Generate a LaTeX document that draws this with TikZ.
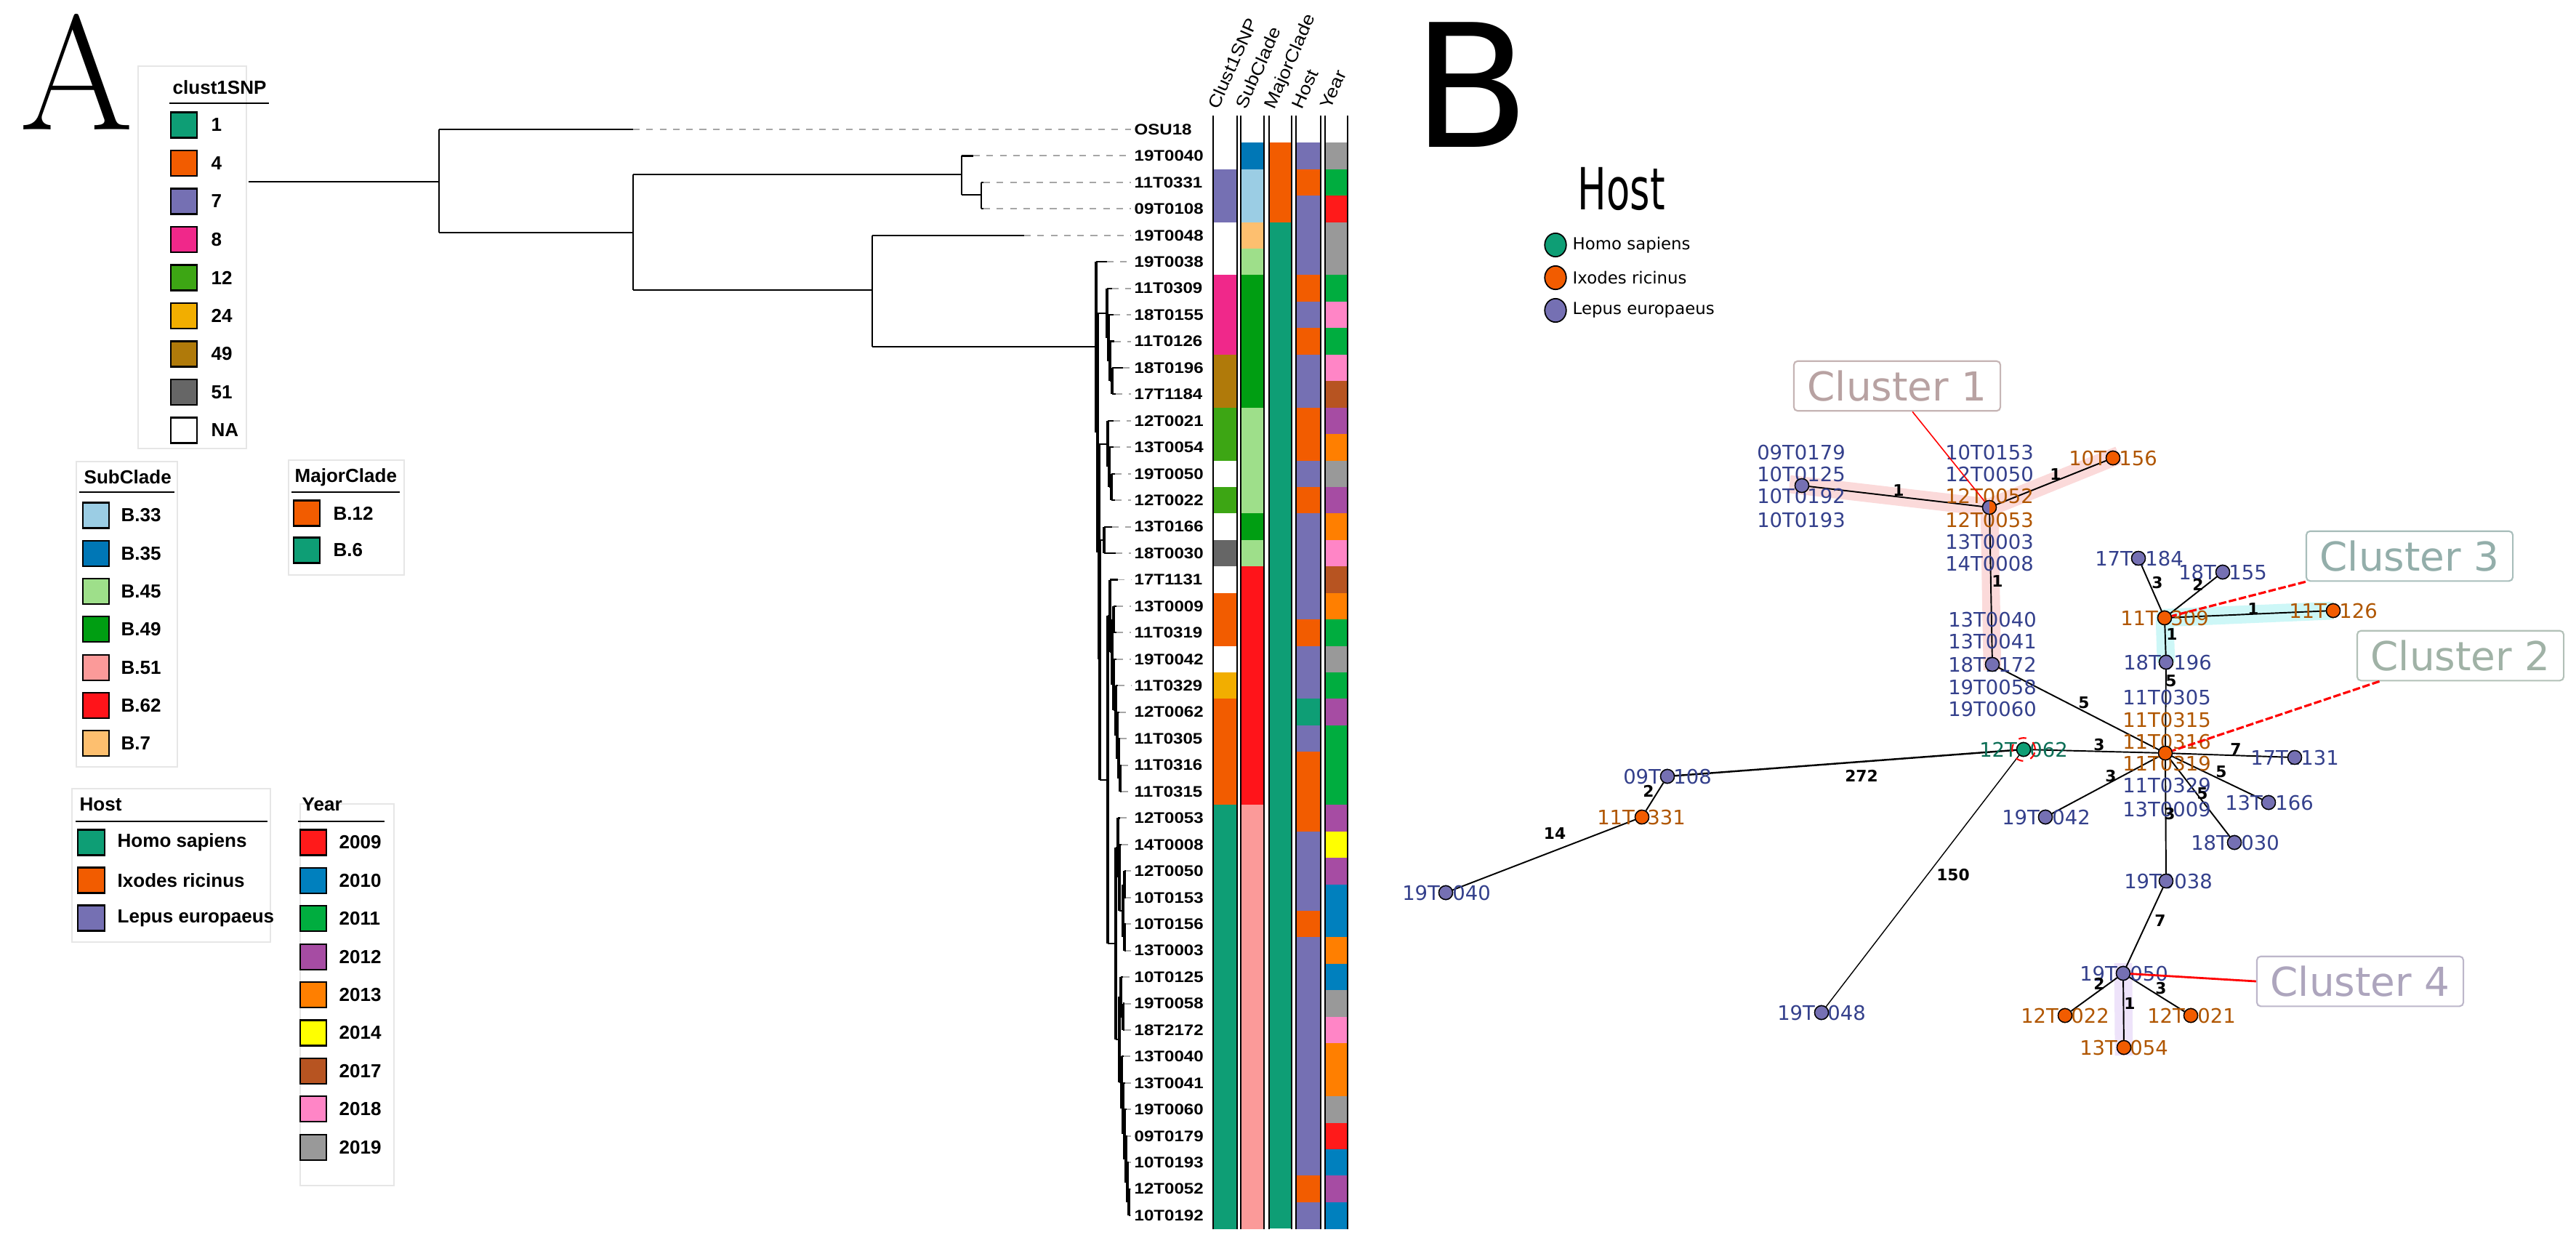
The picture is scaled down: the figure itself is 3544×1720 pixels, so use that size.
\documentclass[tikz,border=0pt]{standalone}
\usepackage{fontspec}
\usepackage{graphicx}
\newfontfamily\lsans{Liberation Sans}
\newfontfamily\treef[FakeStretch=1.14]{Liberation Sans}
\newfontfamily\dvs{DejaVu Sans}
\usetikzlibrary{shapes.geometric}
% palette
\definecolor{cTe}{HTML}{0E9E75}
\definecolor{cOr}{HTML}{F25C00}
\definecolor{cPu}{HTML}{7570B3}
\definecolor{cPk}{HTML}{F0288A}
\definecolor{cGn}{HTML}{3DA614}
\definecolor{cMu}{HTML}{F2AE00}
\definecolor{cBr}{HTML}{B07A0A}
\definecolor{cGy}{HTML}{666666}
\definecolor{cW}{HTML}{FFFFFF}
\definecolor{sB33}{HTML}{9BCDE4}
\definecolor{sB35}{HTML}{0077B6}
\definecolor{sB45}{HTML}{9EDF8A}
\definecolor{sB49}{HTML}{009E12}
\definecolor{sB51}{HTML}{FB9A99}
\definecolor{sB62}{HTML}{FF141A}
\definecolor{sB7}{HTML}{FDBF6F}
\definecolor{y09}{HTML}{FF1A1A}
\definecolor{y10}{HTML}{0080BE}
\definecolor{y11}{HTML}{00AD3F}
\definecolor{y12}{HTML}{A64CA3}
\definecolor{y13}{HTML}{FF7F00}
\definecolor{y14}{HTML}{FFFF00}
\definecolor{y17}{HTML}{B75421}
\definecolor{y18}{HTML}{FF85C6}
\definecolor{y19}{HTML}{999999}
\definecolor{tLep}{HTML}{34408C}
\definecolor{tIxo}{HTML}{B05600}
\definecolor{tHom}{HTML}{0A6E55}
\definecolor{lgB}{HTML}{E6E6E6}
\definecolor{cl1t}{HTML}{B8A2A2}
\definecolor{cl2t}{HTML}{A0B2A6}
\definecolor{cl3t}{HTML}{93AEAA}
\definecolor{cl4t}{HTML}{ADA5BD}
\definecolor{hlPk}{HTML}{FBDADA}
\definecolor{hlCy}{HTML}{CDF7F7}
\definecolor{hlLv}{HTML}{EEE3FA}
% fonts
\newcommand\fLeg{\lsans\bfseries\fontsize{7.4}{8.5}\selectfont}
\newcommand\fTree{\treef\bfseries\fontsize{6}{7}\selectfont}
\newcommand\fHdr{\treef\fontsize{6.8}{7.5}\selectfont}
\newcommand\fNet{\dvs\fontsize{7.8}{9}\selectfont}
\newcommand\fEdge{\dvs\bfseries\fontsize{6.2}{7}\selectfont}
\newcommand\fLegB{\dvs\fontsize{6.5}{7.5}\selectfont}
\newcommand\fClu{\dvs\fontsize{15.6}{17}\selectfont}
% tree helpers
\newcommand\leafbr[3]{\draw[br] (#2,{178+36.44*#1}) -- (#3,{178+36.44*#1}); \draw[dsh] (#3,{178+36.44*#1}) -- (L#1.west);}
\newcommand\vbr[3]{\draw[br] (#1,#2) -- (#1,#3);}
\newcommand\hbr[3]{\draw[br] (#2,#1) -- (#3,#1);}
\begin{document}
\begin{tikzpicture}[x=0.01cm,y=-0.01cm,
  br/.style={line width=0.6pt,black},
  dsh/.style={line width=0.55pt,gray!70,dash pattern=on 2.6pt off 2.6pt,shorten >=1pt},
  leaf/.style={anchor=west,inner sep=0pt,font=\fTree},
  lbox/.style={draw=lgB,line width=0.6pt},
  lttl/.style={anchor=base west,inner sep=0pt,font=\fLeg},
  llab/.style={anchor=west,inner sep=0pt,font=\fLeg},
  sw/.style={draw=black,line width=0.6pt},
  uline/.style={line width=0.6pt,black},
  hdr/.style={rotate=66,anchor=base west,inner sep=0pt,font=\fHdr},
  nd/.style={circle,draw=black,line width=0.4pt,minimum size=5.4pt,inner sep=0pt},
  ed/.style={line width=0.55pt,black},
  nl/.style={inner sep=0pt,font=\fNet},
  el/.style={inner sep=0pt,font=\fEdge},
  clu/.style={rectangle,rounded corners=1.5pt,line width=0.6pt,inner sep=0pt,font=\fClu,fill=white,minimum width=80.8pt,minimum height=19.5pt},
  redl/.style={red,line width=0.45pt},
  redd/.style={red,line width=0.9pt,dash pattern=on 3pt off 1pt},
  hl/.style={line width=7pt,line join=round}]
\useasboundingbox (0,0) rectangle (3544,1720);
\fill[white] (0,0) rectangle (3544,1720);

% ===================== Panel A =====================
\node[anchor=base west,inner sep=0pt,font=\fontsize{64}{64}\selectfont] (lblA) at (27,178) {A};

% clust1SNP legend
\draw[lbox] (190,91) rectangle (339,617);
\node[lttl] (ttlC) at (237,129) {clust1SNP};
\draw[uline] (233,142) -- (370,142);
\foreach \cl/\lab [count=\k from 0] in {cTe/1,cOr/4,cPu/7,cPk/8,cGn/12,cMu/24,cBr/49,cGy/51,cW/NA}{
  \draw[sw,fill=\cl] (235,{154.5+52.5*\k}) rectangle (271,{189.5+52.5*\k});
  \node[llab] (lc\k) at (290,{172+52.5*\k}) {\lab};
}
% SubClade legend
\draw[lbox] (105,635) rectangle (244,1055);
\node[lttl] (ttlS) at (115,665) {SubClade};
\draw[uline] (109,677) -- (240,677);
\foreach \cl/\lab [count=\k from 0] in {sB33/B.33,sB35/B.35,sB45/B.45,sB49/B.49,sB51/B.51,sB62/B.62,sB7/B.7}{
  \draw[sw,fill=\cl] (114,{691.5+52.3*\k}) rectangle (150,{726.5+52.3*\k});
  \node[llab] (ls\k) at (166,{709+52.3*\k}) {\lab};
}
% MajorClade legend
\draw[lbox] (397,633) rectangle (556,791);
\node[lttl] (ttlM) at (405,663) {MajorClade};
\draw[uline] (401,677) -- (550,677);
\foreach \cl/\lab [count=\k from 0] in {cOr/B.12,cTe/B.6}{
  \draw[sw,fill=\cl] (404,{688.5+51*\k}) rectangle (440,{723.5+51*\k});
  \node[llab] (lm\k) at (458,{706+51*\k}) {\lab};
}
% Host legend
\draw[lbox] (99,1085) rectangle (372,1296);
\node[lttl] (ttlH) at (109,1115) {Host};
\draw[uline] (104,1130) -- (368,1130);
\foreach \cl/\lab [count=\k from 0] in {cTe/Homo sapiens,cOr/Ixodes ricinus,cPu/Lepus europaeus}{
  \draw[sw,fill=\cl] (107,{1141.5+52*\k}) rectangle (144,{1176.5+52*\k});
  \node[llab] (lh\k) at (161,{1159+52*\k}) {\lab};
}
% Year legend
\draw[lbox] (413,1106) rectangle (542,1631);
\node[lttl] (ttlY) at (415,1115) {Year};
\draw[uline] (410,1130) -- (529,1130);
\foreach \cl/\lab [count=\k from 0] in {y09/2009,y10/2010,y11/2011,y12/2012,y13/2013,y14/2014,y17/2017,y18/2018,y19/2019}{
  \draw[sw,fill=\cl] (413,{1141.5+52.4*\k}) rectangle (449,{1176.5+52.4*\k});
  \node[llab] (ly\k) at (466,{1159+52.4*\k}) {\lab};
}

% leaf labels
\foreach \n [count=\i from 0] in {OSU18,19T0040,11T0331,09T0108,19T0048,19T0038,11T0309,18T0155,11T0126,18T0196,17T1184,12T0021,13T0054,19T0050,12T0022,13T0166,18T0030,17T1131,13T0009,11T0319,19T0042,11T0329,12T0062,11T0305,11T0316,11T0315,12T0053,14T0008,12T0050,10T0153,10T0156,13T0003,10T0125,19T0058,18T2172,13T0040,13T0041,19T0060,09T0179,10T0193,12T0052,10T0192}{
  \node[leaf] (L\i) at (1560,{178+36.44*\i}) {\n};
}

% tree
\hbr{250}{342}{604}
\vbr{604}{178}{320}
\leafbr{0}{604}{871}
\hbr{320}{604}{871}
\vbr{871}{240}{399}
\hbr{240}{871}{1323}
\vbr{1323}{214.4}{268}
\leafbr{1}{1323}{1339}
\hbr{268}{1323}{1350}
\vbr{1350}{250.9}{287.3}
\leafbr{2}{1350}{1353}
\leafbr{3}{1350}{1353}
\hbr{399}{871}{1200}
\vbr{1200}{323.8}{477}
\leafbr{4}{1200}{1409}
\hbr{477}{1200}{1508}
% big clade (dense ladder: thicker verticals)
\renewcommand\vbr[3]{\draw[br,line width=1.1pt] (#1,#2) -- (#1,#3);}
\vbr{1508}{360.2}{595}
\leafbr{5}{1508}{1523}
\hbr{595}{1508}{1510}
\vbr{1510}{431}{760}
\hbr{431}{1510}{1523}
\vbr{1523}{396.6}{465}
\leafbr{6}{1523}{1530}
\hbr{465}{1523}{1525}
\vbr{1525}{433.1}{497}
\leafbr{7}{1525}{1532}
\hbr{497}{1525}{1527}
\vbr{1527}{469.5}{524.2}
\leafbr{8}{1527}{1533}
\hbr{524.2}{1527}{1530}
\vbr{1530}{506}{542.4}
\leafbr{9}{1530}{1545}
\leafbr{10}{1530}{1535}
\hbr{760}{1510}{1512}
\vbr{1512}{611}{907}
\hbr{611}{1512}{1524}
\vbr{1524}{578.8}{642}
\leafbr{11}{1524}{1532}
\hbr{642}{1524}{1526}
\vbr{1526}{615.3}{670}
\leafbr{12}{1526}{1532}
\hbr{670}{1526}{1529}
\vbr{1529}{651.7}{688.2}
\leafbr{13}{1529}{1534}
\leafbr{14}{1529}{1534}
\hbr{907}{1512}{1513}
\vbr{1513}{743}{1073}
\hbr{743}{1513}{1519}
\vbr{1519}{724.6}{761}
\leafbr{15}{1519}{1530}
\leafbr{16}{1519}{1535}
\hbr{1073}{1513}{1524}
\vbr{1524}{847}{1298}
\hbr{847}{1524}{1527}
\vbr{1527}{797.5}{897}
\leafbr{17}{1527}{1538}
\hbr{897}{1527}{1530}
\vbr{1530}{852}{942}
\hbr{852}{1530}{1532}
\vbr{1532}{833.9}{870.4}
\leafbr{18}{1532}{1536}
\leafbr{19}{1532}{1536}
\hbr{942}{1530}{1532}
\vbr{1532}{906.8}{977}
\leafbr{20}{1532}{1536}
\hbr{977}{1532}{1535}
\vbr{1535}{943.2}{1012}
\leafbr{21}{1535}{1538}
\hbr{1012}{1535}{1537}
\vbr{1537}{979.7}{1043.5}
\leafbr{22}{1537}{1540}
\hbr{1043.5}{1537}{1539}
\vbr{1539}{1016.1}{1071}
\leafbr{23}{1539}{1541}
\hbr{1071}{1539}{1541}
\vbr{1541}{1052.6}{1089}
\leafbr{24}{1541}{1543}
\leafbr{25}{1541}{1543}
\hbr{1298}{1524}{1535}
\vbr{1535}{1166}{1430}
\hbr{1166}{1535}{1538}
\vbr{1538}{1125.4}{1207}
\leafbr{26}{1538}{1541}
\hbr{1207}{1538}{1540}
\vbr{1540}{1161.9}{1253}
\leafbr{27}{1540}{1543}
\hbr{1253}{1540}{1545}
\vbr{1545}{1216.5}{1289.4}
\hbr{1216.5}{1545}{1547}
\vbr{1547}{1198.3}{1234.8}
\leafbr{28}{1547}{1549}
\leafbr{29}{1547}{1549}
\hbr{1289.4}{1545}{1547}
\vbr{1547}{1271.2}{1307.6}
\leafbr{30}{1547}{1549}
\leafbr{31}{1547}{1549}
\hbr{1430}{1535}{1540}
\vbr{1540}{1371}{1489}
\hbr{1371}{1540}{1542}
\vbr{1542}{1344.1}{1398.7}
\leafbr{32}{1542}{1545}
\hbr{1398.7}{1542}{1545}
\vbr{1545}{1380.5}{1417}
\leafbr{33}{1545}{1547}
\leafbr{34}{1545}{1547}
\hbr{1489}{1540}{1543}
\vbr{1543}{1453.4}{1525}
\leafbr{35}{1543}{1546}
\hbr{1525}{1543}{1545}
\vbr{1545}{1489.8}{1560}
\leafbr{36}{1545}{1548}
\hbr{1560}{1545}{1547}
\vbr{1547}{1526.3}{1595}
\leafbr{37}{1547}{1550}
\hbr{1595}{1547}{1549}
\vbr{1549}{1562.7}{1626.5}
\leafbr{38}{1549}{1551}
\hbr{1626.5}{1549}{1551}
\vbr{1551}{1599.2}{1654}
\leafbr{39}{1551}{1553}
\hbr{1654}{1551}{1553}
\vbr{1553}{1635.6}{1672}
\leafbr{40}{1553}{1555}
\leafbr{41}{1553}{1555}

% heatmap
\foreach \cl [count=\i from 0] in {cW,cW,cPu,cPu,cW,cW,cPk,cPk,cPk,cBr,cBr,cGn,cGn,cW,cGn,cW,cGy,cW,cOr,cOr,cW,cMu,cOr,cOr,cOr,cOr,cTe,cTe,cTe,cTe,cTe,cTe,cTe,cTe,cTe,cTe,cTe,cTe,cTe,cTe,cTe,cTe}{
  \fill[fill=\cl] (1669,{159.8+36.44*\i}) rectangle (1702,{196.7+36.44*\i});}
\foreach \cl [count=\i from 0] in {cW,sB35,sB33,sB33,sB7,sB45,sB49,sB49,sB49,sB49,sB49,sB45,sB45,sB45,sB45,sB49,sB45,sB62,sB62,sB62,sB62,sB62,sB62,sB62,sB62,sB62,sB51,sB51,sB51,sB51,sB51,sB51,sB51,sB51,sB51,sB51,sB51,sB51,sB51,sB51,sB51,sB51}{
  \fill[fill=\cl] (1707,{159.8+36.44*\i}) rectangle (1739,{196.7+36.44*\i});}
\fill[cW] (1746,159.8) rectangle (1777,196.2);
\fill[cOr] (1746,196.2) rectangle (1777,305.5);
\fill[cTe] (1746,305.5) rectangle (1777,1690);
\foreach \cl [count=\i from 0] in {cW,cPu,cOr,cPu,cPu,cPu,cOr,cPu,cOr,cPu,cPu,cOr,cOr,cPu,cOr,cPu,cPu,cPu,cPu,cOr,cPu,cPu,cTe,cPu,cOr,cOr,cOr,cPu,cPu,cPu,cOr,cPu,cPu,cPu,cPu,cPu,cPu,cPu,cPu,cPu,cOr,cPu}{
  \fill[fill=\cl] (1783,{159.8+36.44*\i}) rectangle (1817,{196.7+36.44*\i});}
\foreach \cl [count=\i from 0] in {cW,y19,y11,y09,y19,y19,y11,y18,y11,y18,y17,y12,y13,y19,y12,y13,y18,y17,y13,y11,y19,y11,y12,y11,y11,y11,y12,y14,y12,y10,y10,y13,y10,y19,y18,y13,y13,y19,y09,y10,y12,y10}{
  \fill[fill=\cl] (1823,{159.8+36.44*\i}) rectangle (1854,{196.7+36.44*\i});}
\foreach \xa/\xb in {1669/1702,1707/1739,1746/1777,1783/1817,1823/1854}{
  \draw[line width=0.75pt] (\xa,159) -- (\xa,1691);
  \draw[line width=0.75pt] (\xb,159) -- (\xb,1691);
}
\node[hdr] (h1) at (1676,152) {Clust1SNP};
\node[hdr] (h2) at (1714,152) {SubClade};
\node[hdr] (h3) at (1753,152) {MajorClade};
\node[hdr] (h4) at (1791,152) {Host};
\node[hdr] (h5) at (1830,152) {Year};

% ===================== Panel B =====================
\node[anchor=base west,inner sep=0pt,font=\dvs\fontsize{67}{67}\selectfont] (lblB) at (1943,202) {B};
\node[anchor=base west,inner sep=0pt] (ttlHB) at (2170,288) {\scalebox{0.66}[1]{\dvs\fontsize{22.7}{24}\selectfont Host}};
\foreach \cl/\lab [count=\k from 0] in {cTe/Homo sapiens,cOr/Ixodes ricinus,cPu/Lepus europaeus}{
  \node[ellipse,draw=black,line width=0.5pt,fill=\cl,minimum width=8.4pt,minimum height=9.2pt,inner sep=0pt] (lgb\k) at (2140,{337+45*\k}) {};
  \node[anchor=west,inner sep=0pt,font=\fLegB] (lgt\k) at (2163,{337+45*\k}) {\lab};
}

% network node coordinates
\coordinate (pLeft) at (2479,668);
\coordinate (pHub1) at (2737,698);
\coordinate (p10T0156) at (2907,630);
\coordinate (p18T2172) at (2741,914);
\coordinate (p11T0309) at (2978,850);
\coordinate (p11T0126) at (3210,840);
\coordinate (p18T0196) at (2980,911);
\coordinate (p19T0050) at (2921,1339);
\coordinate (p13T0054) at (2922,1441);

% highlights
\draw[hl,hlPk] (2462,666) -- (pHub1) -- (2915,626);
\draw[hl,hlPk] (pHub1) -- (2741,922);
\draw[hl,hlCy] (p11T0126) -- (p11T0309) -- (p18T0196);
\draw[hl,hlLv] (2921,1325) -- (2922,1452);

% network nodes
\node[nd,fill=cPu] (nLeft) at (pLeft) {};
\node[nd,fill=cPu,path picture={\fill[cOr] (path picture bounding box.north) rectangle (path picture bounding box.south east);}] (hub1) at (pHub1) {};
\node[nd,fill=cOr] (n10T0156) at (p10T0156) {};
\node[nd,fill=cPu] (n18T2172) at (p18T2172) {};
\node[nd,fill=cPu] (n17T1184) at (2942,768) {};
\node[nd,fill=cPu] (n18T0155) at (3058,787) {};
\node[nd,fill=cOr] (n11T0309) at (p11T0309) {};
\node[nd,fill=cOr] (n11T0126) at (p11T0126) {};
\node[nd,fill=cPu] (n18T0196) at (p18T0196) {};
\node[nd,fill=cOr] (hub2) at (2979,1036) {};
\node[nd,fill=cTe] (n12T0062) at (2784,1031) {};
\node[nd,fill=cPu] (n17T1131) at (3157,1042) {};
\node[nd,fill=cPu] (n13T0166) at (3121,1104) {};
\node[nd,fill=cPu] (n18T0030) at (3074,1159) {};
\node[nd,fill=cPu] (n19T0042) at (2814,1124) {};
\node[nd,fill=cPu] (n19T0038) at (2980,1212) {};
\node[nd,fill=cPu] (n19T0050) at (p19T0050) {};
\node[nd,fill=cOr] (n12T0022) at (2841,1397) {};
\node[nd,fill=cOr] (n12T0021) at (3014,1397) {};
\node[nd,fill=cOr] (n13T0054) at (p13T0054) {};
\node[nd,fill=cPu] (n09T0108) at (2294,1068) {};
\node[nd,fill=cOr] (n11T0331) at (2259,1124) {};
\node[nd,fill=cPu] (n19T0040) at (1989,1228) {};
\node[nd,fill=cPu] (n19T0048) at (2506,1393) {};

% edges
\draw[ed] (nLeft) -- (hub1);
\draw[ed] (hub1) -- (n10T0156);
\draw[ed] (hub1) -- (n18T2172);
\draw[ed] (n18T2172) -- (hub2);
\draw[ed] (n17T1184) -- (n11T0309);
\draw[ed] (n18T0155) -- (n11T0309);
\draw[ed] (n11T0309) -- (n11T0126);
\draw[ed] (n11T0309) -- (n18T0196);
\draw[ed] (n18T0196) -- (hub2);
\draw[ed] (hub2) -- (n12T0062);
\draw[ed] (hub2) -- (n17T1131);
\draw[ed] (hub2) -- (n13T0166);
\draw[ed] (hub2) -- (n18T0030);
\draw[ed] (hub2) -- (n19T0042);
\draw[ed] (hub2) -- (n19T0038);
\draw[ed] (n19T0038) -- (n19T0050);
\draw[ed] (n19T0050) -- (n12T0022);
\draw[ed] (n19T0050) -- (n12T0021);
\draw[ed] (n19T0050) -- (n13T0054);
\draw[ed,line width=0.7pt] (n12T0062) -- (n09T0108);
\draw[ed] (n09T0108) -- (n11T0331);
\draw[ed] (n11T0331) -- (n19T0040);
\draw[ed,line width=0.4pt] (n12T0062) -- (n19T0048);

% node labels (single)
\node[nl,text=tIxo] (t10T0156) at (2907,630) {10T0156};
\node[nl,text=tLep] (t17T1184) at (2943,768) {17T1184};
\node[nl,text=tLep] (t18T0155) at (3058,787) {18T0155};
\node[nl,text=tIxo] (t11T0309) at (2978,850) {11T0309};
\node[nl,text=tIxo] (t11T0126) at (3210,840) {11T0126};
\node[nl,text=tLep] (t18T0196) at (2982,911) {18T0196};
\node[nl,text=tHom] (t12T0062) at (2784,1031) {12T0062};
\node[nl,text=tLep] (t17T1131) at (3157,1042) {17T1131};
\node[nl,text=tLep] (t13T0166) at (3122,1104) {13T0166};
\node[nl,text=tLep] (t18T0030) at (3075,1159) {18T0030};
\node[nl,text=tLep] (t19T0042) at (2815,1124) {19T0042};
\node[nl,text=tLep] (t19T0038) at (2983,1212) {19T0038};
\node[nl,text=tLep] (t19T0050) at (2922,1339) {19T0050};
\node[nl,text=tIxo] (t12T0022) at (2841,1397) {12T0022};
\node[nl,text=tIxo] (t12T0021) at (3015,1397) {12T0021};
\node[nl,text=tIxo] (t13T0054) at (2922,1441) {13T0054};
\node[nl,text=tLep] (t09T0108) at (2294,1068) {09T0108};
\node[nl,text=tIxo] (t11T0331) at (2258,1124) {11T0331};
\node[nl,text=tLep] (t19T0040) at (1990,1228) {19T0040};
\node[nl,text=tLep] (t19T0048) at (2506,1393) {19T0048};
% grouped labels
\foreach \n/\yy/\cc [count=\k] in {09T0179/622/tLep,10T0125/652/tLep,10T0192/682/tLep,10T0193/715/tLep}{
  \node[nl,text=\cc] (ga\k) at (2478,\yy) {\n};}
\foreach \n/\yy/\cc [count=\k] in {10T0153/622/tLep,12T0050/652/tLep,12T0052/682/tIxo,12T0053/715/tIxo,13T0003/745/tLep,14T0008/775/tLep}{
  \node[nl,text=\cc] (gb\k) at (2737,\yy) {\n};}
\foreach \n/\yy/\cc [count=\k] in {13T0040/852/tLep,13T0041/882/tLep,18T2172/914/tLep,19T0058/945/tLep,19T0060/975/tLep}{
  \node[nl,text=\cc] (gc\k) at (2741,\yy) {\n};}
\foreach \n/\yy/\cc [count=\k] in {11T0305/959/tLep,11T0315/990/tIxo,11T0316/1020/tIxo,11T0319/1050/tIxo,11T0329/1080/tLep,13T0009/1113/tLep}{
  \node[nl,text=\cc] (gd\k) at (2981,\yy) {\n};}

% redraw node discs on top of labels
\foreach \p/\cl in {nLeft/cPu,n10T0156/cOr,n18T2172/cPu,n17T1184/cPu,n18T0155/cPu,n11T0309/cOr,n11T0126/cOr,n18T0196/cPu,hub2/cOr,n12T0062/cTe,n17T1131/cPu,n13T0166/cPu,n18T0030/cPu,n19T0042/cPu,n19T0038/cPu,n19T0050/cPu,n12T0022/cOr,n12T0021/cOr,n13T0054/cOr,n09T0108/cPu,n11T0331/cOr,n19T0040/cPu,n19T0048/cPu}{
  \node[nd,fill=\cl] (top\p) at (\p) {};}
\node[nd,fill=cPu,path picture={\fill[cOr] (path picture bounding box.north) rectangle (path picture bounding box.south east);}] (tophub1) at (hub1) {};
\node[circle,draw=red,dashed,line width=0.6pt,minimum size=9pt,inner sep=0pt] (ring) at (n12T0062) {};

% edge labels
\node[el] (w1) at (2612,675) {1};
\node[el] (w2) at (2828,653) {1};
\node[el] (w3) at (2748,800) {1};
\node[el] (w4) at (2867,967) {5};
\node[el] (w5) at (2968,802) {3};
\node[el] (w6) at (3024,804) {2};
\node[el] (w7) at (3100,838) {1};
\node[el] (w8) at (2988,873) {1};
\node[el] (w9) at (2987,937) {5};
\node[el] (w10) at (2888,1025) {3};
\node[el] (w11) at (3076,1031) {7};
\node[el] (w12) at (3056,1062) {5};
\node[el] (w13) at (3030,1092) {5};
\node[el] (w14) at (2904,1068) {3};
\node[el] (w15) at (2985,1120) {3};
\node[el] (w16) at (2972,1267) {7};
\node[el] (w17) at (2888,1353) {2};
\node[el] (w18) at (2973,1360) {3};
\node[el] (w19) at (2930,1381) {1};
\node[el] (w20) at (2561,1067) {272};
\node[el] (w21) at (2268,1088) {2};
\node[el] (w22) at (2139,1147) {14};
\node[el] (w23) at (2687,1204) {150};

% cluster boxes and pointers
\node[clu,draw=cl1t!80,text=cl1t] (cl1) at (2610,531) {Cluster 1};
\node[clu,draw=cl3t!80,text=cl3t] (cl3) at (3315,765) {Cluster 3};
\node[clu,draw=cl2t!80,text=cl2t] (cl2) at (3385,902) {Cluster 2};
\node[clu,draw=cl4t!80,text=cl4t] (cl4) at (3247,1350) {Cluster 4};
\draw[redl] ([xshift=46.7pt]cl1.south west) -- (tophub1);
\draw[redd] (cl3.south west) -- (topn11T0309);
\draw[redd] ([xshift=9pt]cl2.south west) -- (tophub2);
\draw[red,line width=0.8pt] (cl4.west) -- (topn19T0050);
\end{tikzpicture}
\end{document}
